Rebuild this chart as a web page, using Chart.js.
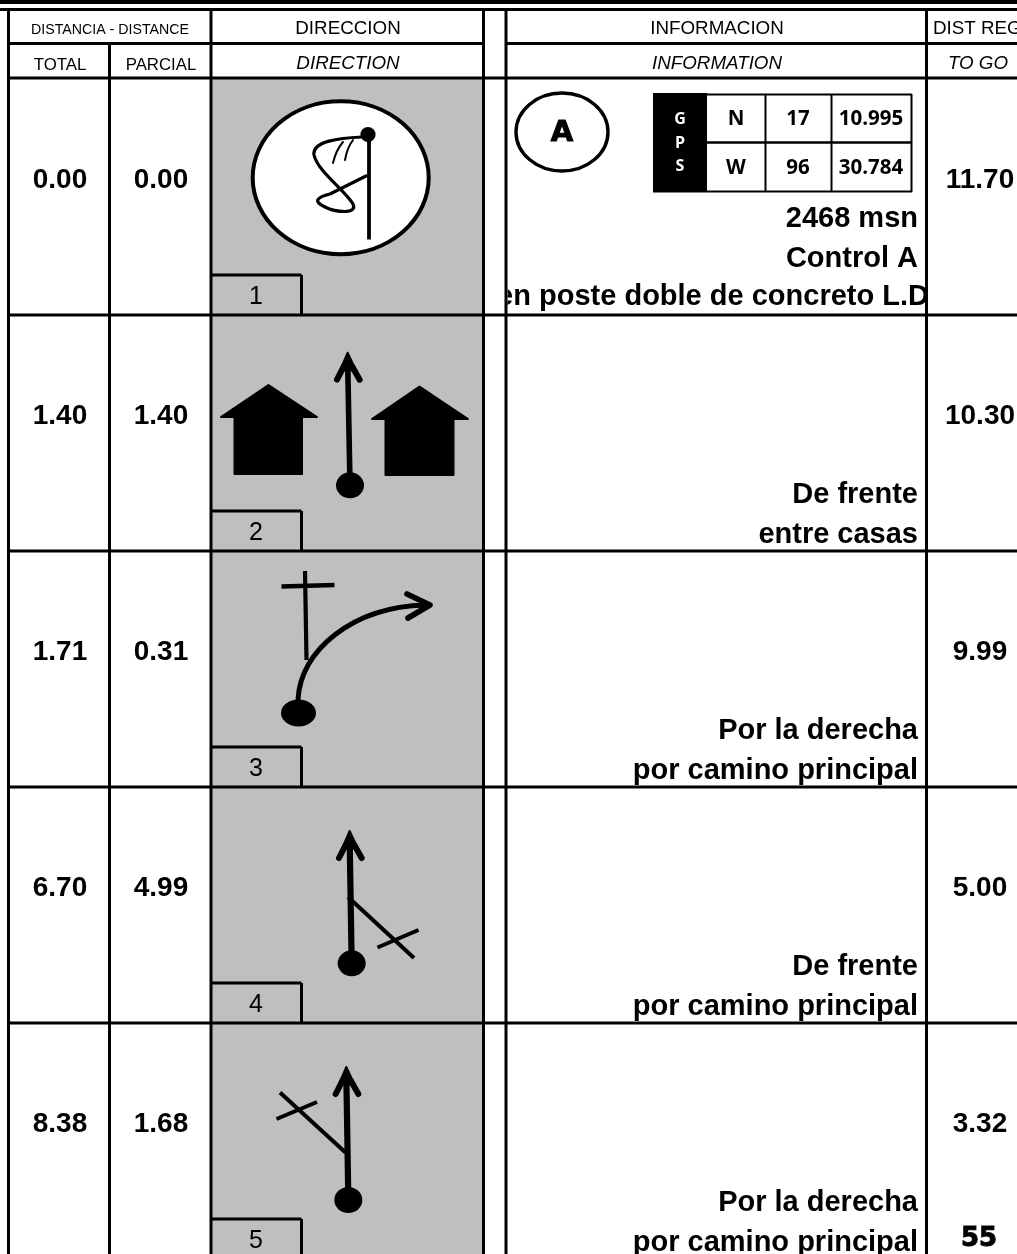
<!DOCTYPE html>
<html>
<head>
<meta charset="utf-8">
<title>Roadbook</title>
<script src="https://cdn.jsdelivr.net/npm/chart.js@4/dist/chart.umd.min.js"></script>
<style>
  html, body { margin: 0; padding: 0; background: #fff; overflow: hidden; }
  canvas { display: block; }
</style>
</head>
<body>
<canvas id="roadbook" width="1017" height="1254"></canvas>
<script>
// Table contents
const totals = ['0.00', '1.40', '1.71', '6.70', '8.38'];
const parciales = ['0.00', '1.40', '0.31', '4.99', '1.68'];
const toGo = ['11.70', '10.30', '9.99', '5.00', '3.32'];
const steps = ['1', '2', '3', '4', '5'];
const infoUpper = ['Control A', 'De frente', 'Por la derecha', 'De frente', 'Por la derecha'];
const infoLower = ['en poste doble de concreto L.D.', 'entre casas', 'por camino principal', 'por camino principal', 'por camino principal'];
const altitude = '2468 msn';
const gpsRows = [['N', '17', '10.995'], ['W', '96', '30.784']];
const pageNumber = '55';

// Page layout, in pixels of the photographed page
const ROW_TOP = 79;
const ROW_H = 236;
const COL = { left: 8.5, total: 109.5, dir: 211, dirEnd: 483.5, info: 506, togo: 926.5 };
const HEAD_Y = [9.5, 43.5, 78];
const SANS = '"Liberation Sans", Arial, sans-serif';

const rowTop = i => ROW_TOP + i * ROW_H;
const rowBottom = i => rowTop(i) + ROW_H;

// Builds an invisible dataset whose points carry text
function textSet(texts, xs, ys, font, extra) {
  return Object.assign({
    data: texts.map((t, i) => ({ x: xs(i), y: ys(i) })),
    texts, font, pointRadius: 0, showLine: false
  }, extra);
}

function ruleSet(width, segments) {
  const data = [];
  segments.forEach(s => {
    data.push({ x: s[0], y: s[1] }, { x: s[2], y: s[3] }, { x: NaN, y: NaN });
  });
  return { data, showLine: true, borderColor: '#000', borderWidth: width, pointRadius: 0, spanGaps: false, tension: 0 };
}

const rules = [
  [0, HEAD_Y[0], 1017, HEAD_Y[0]],
  [COL.left, HEAD_Y[1], COL.dirEnd, HEAD_Y[1]],
  [COL.info, HEAD_Y[1], 1017, HEAD_Y[1]],
  [COL.left, HEAD_Y[2], 1017, HEAD_Y[2]],
  [COL.left, HEAD_Y[0], COL.left, 1254],
  [COL.total, HEAD_Y[1], COL.total, 1254],
  [COL.dir, HEAD_Y[0], COL.dir, 1254],
  [COL.dirEnd, HEAD_Y[0], COL.dirEnd, 1254],
  [COL.info, HEAD_Y[0], COL.info, 1254],
  [COL.togo, HEAD_Y[0], COL.togo, 1254]
];
steps.forEach((s, i) => {
  if (rowBottom(i) < 1254) rules.push([COL.left, rowBottom(i), 1017, rowBottom(i)]);
  rules.push([COL.dir, rowBottom(i) - 40, 301.5, rowBottom(i) - 40]);
  rules.push([301.5, rowBottom(i) - 40, 301.5, Math.min(rowBottom(i), 1254)]);
});

const gpsCols = [736, 798, 871];
const gpsLines = [119, 168];

const datasets = [
  ruleSet(3, rules),
  // column headers
  textSet(['DISTANCIA - DISTANCE'], () => 110, () => 30.5, '14.2px ' + SANS),
  textSet(['TOTAL', 'PARCIAL'], i => [60, 161][i], () => 65, '16.8px ' + SANS),
  textSet(['DIRECCION', 'INFORMACION'], i => [348, 717][i], () => 28.5, '18.8px ' + SANS),
  textSet(['DIRECTION', 'INFORMATION', 'TO GO'], i => [348, 717, 978][i], () => 63.5, 'italic 18.8px ' + SANS),
  textSet(['DIST REG'], () => 933, () => 28.5, '18.8px ' + SANS, { align: 'left' }),
  // distances
  textSet(totals, () => 60, i => rowTop(i) + 101, 'bold 28px ' + SANS),
  textSet(parciales, () => 161, i => rowTop(i) + 101, 'bold 28px ' + SANS),
  textSet(toGo, () => 980, i => rowTop(i) + 101, 'bold 28px ' + SANS),
  textSet(steps, () => 256, i => rowBottom(i) - 18, '25px ' + SANS),
  // information column, clipped to its cell
  textSet(infoUpper, () => 918, i => rowTop(i) + 188, 'bold 29px ' + SANS, { align: 'right', baseline: 'alphabetic' }),
  textSet(infoLower.slice(1), () => 918, i => rowTop(i + 1) + 228, 'bold 29px ' + SANS, { align: 'right', baseline: 'alphabetic' }),
  textSet(infoLower.slice(0, 1), () => 937, () => 305, 'bold 29px ' + SANS, { align: 'right', baseline: 'alphabetic', clipX: [COL.info, COL.togo] }),
  textSet([altitude], () => 918, () => 227, 'bold 29px ' + SANS, { align: 'right', baseline: 'alphabetic' }),
  // GPS box
  textSet(['G', 'P', 'S'], () => 680, i => [119, 143, 166][i], 'bold 16px "Open Sans", sans-serif', { color: '#fff' }),
  textSet(gpsRows[0], i => gpsCols[i], () => gpsLines[0], 'bold 20.5px "Open Sans", sans-serif'),
  textSet(gpsRows[1], i => gpsCols[i], () => gpsLines[1], 'bold 20.5px "Open Sans", sans-serif'),
  textSet(['A'], () => 562, () => 133, 'bold 29px "DejaVu Sans", sans-serif', { stroke: 1 }),
  textSet([pageNumber], () => 979, () => 1239, 'bold 26px "DejaVu Sans", sans-serif', { stroke: 1 })
];

// Helper that maps page coordinates through the chart scales
function pen(chart) {
  const { ctx, scales } = chart;
  const X = v => scales.x.getPixelForValue(v);
  const Y = v => scales.y.getPixelForValue(v);
  return {
    ctx, X, Y,
    line(pts, w) {
      ctx.beginPath();
      pts.forEach((p, i) => i ? ctx.lineTo(X(p[0]), Y(p[1])) : ctx.moveTo(X(p[0]), Y(p[1])));
      ctx.lineWidth = w;
      ctx.stroke();
    },
    fillPoly(pts) {
      ctx.beginPath();
      pts.forEach((p, i) => i ? ctx.lineTo(X(p[0]), Y(p[1])) : ctx.moveTo(X(p[0]), Y(p[1])));
      ctx.closePath();
      ctx.fill();
      ctx.lineWidth = 2;
      ctx.stroke();
    },
    ellipse(cx, cy, rx, ry, fill, w) {
      ctx.beginPath();
      ctx.ellipse(X(cx), Y(cy), rx, ry, 0, 0, Math.PI * 2);
      if (fill) { ctx.fillStyle = fill; ctx.fill(); }
      if (w) { ctx.lineWidth = w; ctx.stroke(); }
    },
    rect(x0, y0, x1, y1, fill) {
      ctx.fillStyle = fill;
      ctx.fillRect(X(x0), Y(y0), X(x1) - X(x0), Y(y1) - Y(y0));
    }
  };
}

// Straight-on arrow with start dot, shared by rows 2, 4 and 5
function arrow(p, ox, oy, z) {
  const q = (x, y) => [ox + x / 3, oy + y / 3];
  p.line([q(z.x0, z.y0 + 30), q(z.x1, z.y1)], z.w);
  p.ctx.fillStyle = '#000';
  p.fillPoly([q(z.x0, z.y0 + 3), q(z.x0 - 27, z.y0 + 65), q(z.x0, z.y0 + 50), q(z.x0 + 29, z.y0 + 65)]);
  p.line([q(z.x0 - 32, z.y0 + 84), q(z.x0 - 12, z.y0 + 45)], 6);
  p.line([q(z.x0 + 36, z.y0 + 84), q(z.x0 + 14, z.y0 + 45)], 6);
  p.ellipse(ox + z.x1 / 3, oy + z.y1 / 3, 14, 13, '#000');
}

function house(p, peak, eave, x0, x1, bottom, left, right) {
  p.ctx.fillStyle = '#000';
  p.fillPoly([[peak[0], peak[1]], [right, eave], [x1, eave], [x1, bottom], [x0, bottom], [x0, eave], [left, eave]]);
}

function drawIcons(chart) {
  const p = pen(chart);
  const { ctx } = p;
  ctx.save();
  ctx.strokeStyle = '#000';
  ctx.lineCap = 'round';
  ctx.lineJoin = 'round';

  // row 1: start flag
  p.ellipse(340.7, 177.7, 88, 76.5, '#fff', 4);
  ctx.lineCap = 'butt';
  p.line([[369, 135], [369, 239.5]], 3.8);
  ctx.lineCap = 'round';
  p.ellipse(368, 134.5, 7.6, 7.6, '#000');
  ctx.beginPath();
  ctx.moveTo(p.X(362), p.Y(137));
  ctx.bezierCurveTo(p.X(340), p.Y(138), p.X(312), p.Y(141), p.X(314), p.Y(155));
  ctx.bezierCurveTo(p.X(318), p.Y(172), p.X(345), p.Y(190), p.X(353), p.Y(204));
  ctx.bezierCurveTo(p.X(358), p.Y(215), p.X(335), p.Y(212), p.X(325), p.Y(207));
  ctx.bezierCurveTo(p.X(312), p.Y(201), p.X(318), p.Y(197), p.X(330), p.Y(194));
  ctx.lineTo(p.X(366), p.Y(176));
  ctx.lineWidth = 3.2;
  ctx.stroke();
  ctx.lineWidth = 2;
  ctx.beginPath();
  ctx.moveTo(p.X(343), p.Y(142));
  ctx.quadraticCurveTo(p.X(336), p.Y(150), p.X(333), p.Y(163));
  ctx.moveTo(p.X(353), p.Y(140));
  ctx.quadraticCurveTo(p.X(347), p.Y(148), p.X(345), p.Y(160));
  ctx.stroke();

  // row 1: control badge and GPS box
  p.ellipse(562, 132, 46, 39, null, 3.4);
  p.rect(653, 93, 707, 192.5, '#000');
  ctx.lineCap = 'butt';
  p.line([[707, 94.5], [911.5, 94.5], [911.5, 191.5], [707, 191.5]], 2);
  p.line([[707, 142.5], [911.5, 142.5]], 2.4);
  p.line([[765.5, 94], [765.5, 192]], 2);
  p.line([[831.5, 94], [831.5, 192]], 2);
  ctx.lineCap = 'round';

  // row 2: between houses
  house(p, [268.5, 385], 417, 234.5, 302, 474, 221, 317);
  house(p, [419.5, 386.5], 419, 385.5, 453.5, 475, 372, 468);
  arrow(p, 200, 320, { x0: 443, y0: 95, x1: 450, y1: 496, w: 5.6 });

  // row 3: turn right with a cross on the left
  ctx.lineCap = 'butt';
  p.line([[305, 571], [306.5, 660]], 4.2);
  p.line([[281.5, 586.5], [334.5, 585]], 4.4);
  ctx.lineCap = 'round';
  ctx.beginPath();
  ctx.moveTo(p.X(298), p.Y(700));
  ctx.bezierCurveTo(p.X(300), p.Y(650), p.X(353), p.Y(607), p.X(425), p.Y(605));
  ctx.lineWidth = 5;
  ctx.stroke();
  p.line([[407, 594], [430, 605], [408, 618]], 5.6);
  p.ellipse(298.5, 713, 17.5, 13.5, '#000');

  // row 4: straight, track on the right
  arrow(p, 200, 790, { x0: 449, y0: 120, x1: 455, y1: 520, w: 6.2 });
  ctx.lineCap = 'butt';
  p.line([[348, 897], [414, 958]], 4);
  p.line([[377.5, 947.5], [418.5, 930]], 4);
  ctx.lineCap = 'round';

  // row 5: straight, track on the left
  arrow(p, 200, 1020, { x0: 439, y0: 138, x1: 445, y1: 540, w: 6.2 });
  ctx.lineCap = 'butt';
  p.line([[345.5, 1152.5], [280, 1092.5]], 4);
  p.line([[276.5, 1119], [317, 1102]], 4);
  ctx.restore();
}

const roadbookPlugin = {
  id: 'roadbook',
  beforeDatasetsDraw(chart) {
    const p = pen(chart);
    p.rect(0, 0, 1017, 4, '#000');
    p.rect(COL.dir, ROW_TOP, COL.dirEnd, 1254, '#bfbfbf');
  },
  afterDatasetsDraw(chart) {
    drawIcons(chart);
    const { ctx } = chart;
    chart.data.datasets.forEach((ds, d) => {
      if (!ds.texts) return;
      const pts = chart.getDatasetMeta(d).data;
      ctx.save();
      if (ds.clipX) {
        const sx = chart.scales.x;
        const x0 = sx.getPixelForValue(ds.clipX[0]) + 1.5;
        const x1 = sx.getPixelForValue(ds.clipX[1]) - 1.5;
        ctx.beginPath();
        ctx.rect(x0, 0, x1 - x0, chart.height);
        ctx.clip();
      }
      ctx.font = ds.font;
      ctx.fillStyle = ds.color || '#000';
      ctx.textAlign = ds.align || 'center';
      ctx.textBaseline = ds.baseline || 'middle';
      ds.texts.forEach((t, i) => {
        ctx.fillText(t, pts[i].x, pts[i].y);
        if (ds.stroke) {
          ctx.lineWidth = ds.stroke;
          ctx.strokeStyle = ds.color || '#000';
          ctx.strokeText(t, pts[i].x, pts[i].y);
        }
      });
      ctx.restore();
    });
  }
};

new Chart(document.getElementById('roadbook').getContext('2d'), {
  type: 'scatter',
  data: { datasets },
  plugins: [roadbookPlugin],
  options: {
    responsive: false,
    animation: false,
    layout: { padding: 0 },
    plugins: { legend: { display: false }, tooltip: { enabled: false } },
    scales: {
      x: { type: 'linear', min: 0, max: 1017, display: false },
      y: { type: 'linear', min: 0, max: 1254, reverse: true, display: false }
    }
  }
});
</script>
</body>
</html>
